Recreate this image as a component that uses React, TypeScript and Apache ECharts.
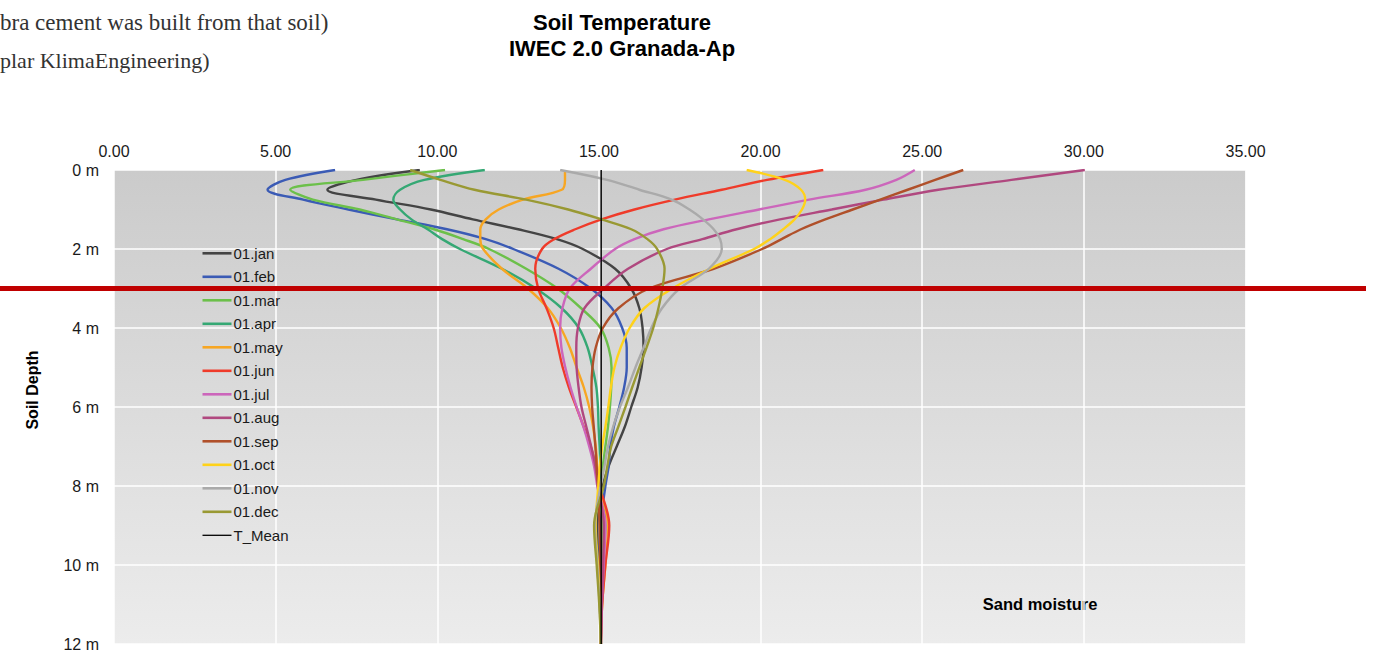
import React, { useEffect, useRef } from "react";
import * as echarts from "echarts";

// depth (m) at which each temperature value was read
const depths = [0, 0.25, 0.5, 0.75, 1, 1.25, 1.5, 1.75, 2, 2.5, 3, 3.5, 4, 4.5, 5, 5.5, 6, 6.5, 7, 7.5, 8, 9, 10, 11, 12];

// soil temperature (°C) per month at the depths above
const jan = [9.46, 7.5, 6.6, 8.1, 9.8, 11.1, 12.5, 13.7, 14.5, 15.5, 16.0, 16.25, 16.35, 16.38, 16.32, 16.2, 16.0, 15.8, 15.55, 15.3, 15.12, 14.95, 14.98, 15.03, 15.06];
const feb = [6.84, 5.3, 4.75, 5.85, 7.25, 8.75, 10.3, 11.5, 12.35, 13.75, 14.75, 15.4, 15.72, 15.86, 15.86, 15.78, 15.63, 15.46, 15.35, 15.3, 15.2, 15.05, 15.02, 15.05, 15.06];
const mar = [10.24, 7.7, 5.45, 6.15, 7.6, 8.75, 9.9, 10.8, 11.6, 12.75, 13.72, 14.45, 15.05, 15.3, 15.39, 15.38, 15.34, 15.28, 15.2, 15.12, 15.05, 15.1, 15.08, 15.07, 15.06];
const apr = [11.47, 9.6, 8.85, 8.64, 8.85, 9.2, 9.7, 10.15, 10.7, 12.0, 13.05, 13.85, 14.38, 14.65, 14.8, 14.92, 14.97, 14.99, 15.02, 15.04, 15.05, 15.2, 15.12, 15.08, 15.06];
const may = [13.95, 13.95, 13.85, 12.65, 11.9, 11.5, 11.33, 11.33, 11.42, 12.0, 12.8, 13.42, 13.82, 14.1, 14.31, 14.53, 14.7, 14.82, 14.9, 14.95, 15.0, 15.28, 15.2, 15.1, 15.06];
const jun = [21.94, 20.2, 18.8, 17.35, 16.1, 15.08, 14.27, 13.62, 13.24, 13.03, 13.12, 13.38, 13.6, 13.74, 13.88, 14.07, 14.3, 14.53, 14.75, 14.9, 15.02, 15.32, 15.2, 15.1, 15.06];
const jul = [24.77, 24.2, 23.25, 21.5, 19.95, 18.4, 17.0, 16.1, 15.5, 14.75, 14.1, 13.87, 13.8, 13.84, 13.96, 14.12, 14.31, 14.52, 14.7, 14.85, 14.95, 15.2, 15.15, 15.09, 15.06];
const aug = [30.03, 27.76, 25.5, 23.8, 22.2, 20.6, 19.26, 18.2, 17.1, 15.9, 15.15, 14.55, 14.35, 14.3, 14.31, 14.37, 14.46, 14.61, 14.76, 14.89, 14.97, 15.15, 15.13, 15.09, 15.06];
const sep = [26.27, 25.4, 24.55, 23.7, 22.85, 22.0, 21.25, 20.65, 20.05, 18.55, 16.55, 15.6, 15.12, 14.9, 14.8, 14.77, 14.79, 14.84, 14.89, 14.93, 14.97, 15.02, 15.04, 15.05, 15.06];
const oct = [19.57, 20.75, 21.25, 21.38, 21.28, 21.05, 20.7, 20.3, 19.8, 18.43, 17.27, 16.4, 15.95, 15.67, 15.48, 15.37, 15.29, 15.2, 15.1, 15.03, 14.98, 14.9, 14.97, 15.03, 15.06];
const nov = [13.8, 15.25, 16.25, 17.25, 17.8, 18.22, 18.55, 18.75, 18.8, 18.4, 17.5, 16.95, 16.62, 16.38, 16.13, 15.9, 15.65, 15.44, 15.28, 15.17, 15.05, 14.88, 14.95, 15.02, 15.06];
const dec = [9.16, 10.1, 11.15, 12.75, 14.05, 15.08, 16.0, 16.5, 16.8, 17.03, 16.96, 16.84, 16.68, 16.47, 16.25, 16.03, 15.82, 15.6, 15.38, 15.26, 15.15, 14.85, 14.93, 15.01, 15.06];

const monthNames = ["01.jan", "01.feb", "01.mar", "01.apr", "01.may", "01.jun", "01.jul", "01.aug", "01.sep", "01.oct", "01.nov", "01.dec"];
const monthColors = ["#444444", "#3b5bb5", "#6cc04a", "#35a874", "#f7a623", "#ef3b2a", "#cc66bb", "#b0487f", "#b0502a", "#ffd21a", "#aaaaaa", "#999933"];

const meanName = "T_Mean";
const tMean = 15.07;
const meanDepths = [0, 12];

const markerDepth = 3; // red horizontal marker

const titleLines = ["Soil Temperature", "IWEC 2.0 Granada-Ap"];
const noteLines = ["bra cement was built from that soil)", "plar KlimaEngineering)"];
const yTitle = "Soil Depth";
const cornerNote = "Sand moisture";

const SANS = '"Liberation Sans", Arial, sans-serif';
const SERIF = '"Liberation Serif", "Times New Roman", serif';

export default function App() {
  const ref = useRef<HTMLDivElement>(null);

  useEffect(() => {
    const chart = echarts.init(ref.current!, null, { renderer: "svg" });
    const monthly = [jan, feb, mar, apr, may, jun, jul, aug, sep, oct, nov, dec];

    const series: any[] = monthly.map((vals, i) => ({
      name: monthNames[i],
      type: "line",
      data: depths.map((d, j) => [vals[j], d]),
      smooth: 0.35,
      symbol: "none",
      lineStyle: { width: 2.4, color: monthColors[i] },
      itemStyle: { color: monthColors[i] },
    }));
    series.push({
      name: meanName,
      type: "line",
      data: meanDepths.map((d) => [tMean, d]),
      symbol: "none",
      lineStyle: { width: 1.4, color: "#000000" },
      itemStyle: { color: "#000000" },
      z: 5,
    });

    const gridTop = 170;
    const gridH = 474;
    const markerY = gridTop + (markerDepth / 12) * gridH;

    const legendData: any[] = monthNames.map((n) => ({ name: n, icon: "rect" }));
    legendData.push({ name: meanName, icon: "path://M0,0H29V1.3H0Z" });

    chart.setOption({
      animation: false,
      backgroundColor: "#ffffff",
      textStyle: { fontFamily: SANS },
      grid: {
        left: 114,
        top: gridTop,
        width: 1131.5,
        height: gridH,
        show: true,
        borderWidth: 0,
        backgroundColor: new echarts.graphic.LinearGradient(0, 0, 0, 1, [
          { offset: 0, color: "#cbcbcb" },
          { offset: 1, color: "#ececec" },
        ]),
      },
      xAxis: {
        type: "value",
        position: "top",
        min: 0,
        max: 35,
        interval: 5,
        axisLine: { show: false },
        axisTick: { show: false },
        axisLabel: {
          margin: 11,
          fontSize: 16,
          color: "#1a1a1a",
          fontFamily: SANS,
          formatter: (v: number) => v.toFixed(2),
        },
        splitLine: { show: true, lineStyle: { color: "#ffffff", width: 1.5 } },
      },
      yAxis: {
        type: "value",
        inverse: true,
        min: 0,
        max: 12,
        interval: 2,
        axisLine: { show: false },
        axisTick: { show: false },
        axisLabel: {
          margin: 15,
          fontSize: 16,
          color: "#1a1a1a",
          fontFamily: SANS,
          formatter: (v: number) => `${v} m`,
        },
        splitLine: { show: true, lineStyle: { color: "#ffffff", width: 1.5 } },
      },
      legend: {
        orient: "vertical",
        left: 197.5,
        top: 240.8,
        padding: 5,
        itemWidth: 29,
        itemHeight: 2.6,
        itemGap: 8.5,
        data: legendData,
        textStyle: {
          fontSize: 15,
          lineHeight: 15,
          color: "#1a1a1a",
          fontFamily: SANS,
          padding: [0, 0, 0, -3],
        },
      },
      graphic: [
        {
          type: "text",
          x: 622,
          y: 9,
          style: {
            text: titleLines.join("\n"),
            font: `bold 22px ${SANS}`,
            fill: "#000000",
            textAlign: "center",
            lineHeight: 26,
          },
        },
        {
          type: "text",
          x: 0,
          y: 22,
          style: {
            text: noteLines[0],
            font: `23px ${SERIF}`,
            fill: "#333333",
            textAlign: "left",
            textVerticalAlign: "middle",
          },
        },
        {
          type: "text",
          x: 0,
          y: 60,
          style: {
            text: noteLines[1],
            font: `22px ${SERIF}`,
            fill: "#333333",
            textAlign: "left",
            textVerticalAlign: "middle",
          },
        },
        {
          type: "text",
          x: 32,
          y: 390,
          rotation: Math.PI / 2,
          style: {
            text: yTitle,
            font: `bold 16px ${SANS}`,
            fill: "#000000",
            textAlign: "center",
            textVerticalAlign: "middle",
          },
        },
        {
          type: "text",
          x: 1040,
          y: 604,
          style: {
            text: cornerNote,
            font: `bold 16.5px ${SANS}`,
            fill: "#000000",
            textAlign: "center",
            textVerticalAlign: "middle",
          },
        },
        {
          type: "rect",
          shape: { x: 0, y: markerY - 2.4, width: 1366, height: 4.8 },
          style: { fill: "#c00000" },
          z: 100,
        },
      ],
      series,
    });

    return () => chart.dispose();
  }, []);

  return (
    <div
      ref={ref}
      style={{ position: "fixed", left: 0, top: 0, width: 1382, height: 653 }}
    />
  );
}
